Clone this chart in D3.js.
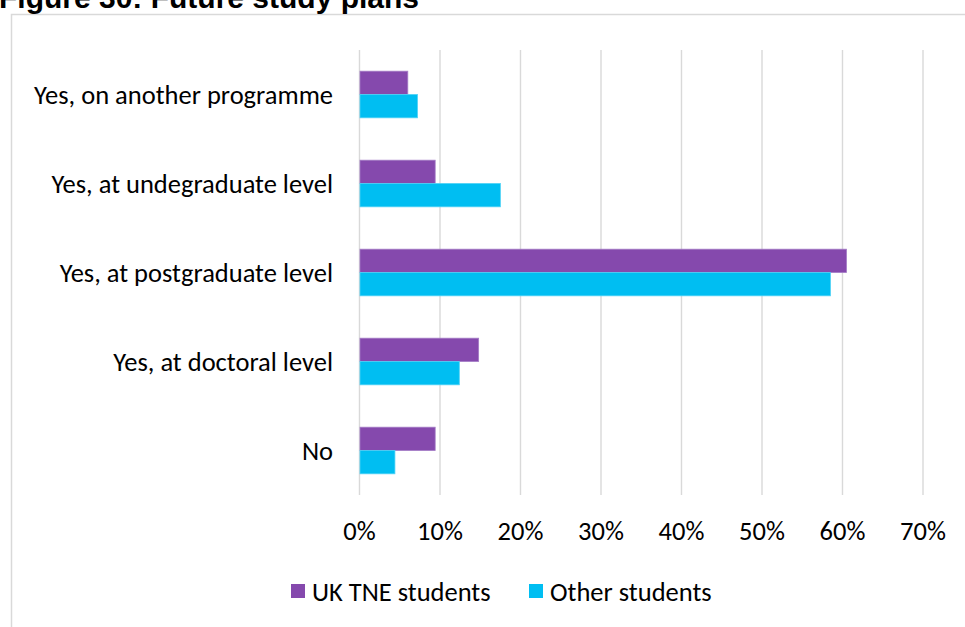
<!DOCTYPE html>
<html><head><meta charset="utf-8">
<script src="https://cdn.jsdelivr.net/npm/d3@7"></script>
<style>body{margin:0;background:#fff;overflow:hidden}svg{display:block}</style>
</head><body><svg id="c" width="965" height="627"></svg>
<script>
const categories = ["Yes, on another programme","Yes, at undegraduate level","Yes, at postgraduate level","Yes, at doctoral level","No"];
const seriesNames = ["UK TNE students","Other students"];
const ukTne = [0.060, 0.094, 0.605, 0.148, 0.094];
const other = [0.072, 0.175, 0.585, 0.124, 0.044];
const ticks = [0,0.1,0.2,0.3,0.4,0.5,0.6,0.7];
const colors = ["#8549AD","#00BEF2"];
const strokes = ["#A47CC6","#4FD2F6"];
const title = "Figure 30: Future study plans";

const svg = d3.select("#c");
const font = "Carlito, Calibri, Lato, sans-serif";
const fs = 26.5;

svg.append("rect").attr("x",11.5).attr("y",14.5).attr("width",1000).attr("height",700)
  .attr("fill","#fff").attr("stroke","#d9d9d9").attr("stroke-width",1.5);

svg.append("text").attr("x",-1).attr("y",8).text(title)
  .attr("font-family","'Liberation Sans', Arial, sans-serif").attr("font-weight","bold")
  .attr("font-size",30).attr("fill","#000");

const x = d3.scaleLinear().domain([0,0.7]).range([359.5,923]);
const y = d3.scaleBand().domain(categories).range([50,495]).paddingInner(0.476).paddingOuter(0.238);
const ys = d3.scaleBand().domain(seriesNames).range([0,y.bandwidth()]);

svg.append("g").selectAll("line").data(ticks).join("line")
  .attr("x1",d=>x(d)).attr("x2",d=>x(d)).attr("y1",50).attr("y2",495)
  .attr("stroke","#d9d9d9").attr("stroke-width",1.4);

const data = [ukTne, other];
data.forEach((vals,si)=>{
  svg.append("g").selectAll("rect").data(categories).join("rect")
    .attr("x",x(0)+0.5)
    .attr("y",c=>y(c)+ys(seriesNames[si]))
    .attr("width",(c,i)=>x(vals[i])-x(0)-0.5)
    .attr("height",ys.bandwidth())
    .attr("fill",colors[si]).attr("stroke",strokes[si]).attr("stroke-width",0.8);
});

svg.append("g").selectAll("text").data(categories).join("text")
  .attr("x",333).attr("y",c=>y(c)+y.bandwidth()/2).attr("dy","0.35em")
  .attr("text-anchor","end").attr("font-family",font).attr("font-size",fs).attr("fill","#000")
  .text(d=>d);

svg.append("g").selectAll("text").data(ticks).join("text")
  .attr("x",d=>x(d)).attr("y",531).attr("dy","0.35em").attr("text-anchor","middle")
  .attr("font-family",font).attr("font-size",fs).attr("fill","#000")
  .text(d3.format(".0%"));

const lx = [291, 529];
seriesNames.forEach((n,i)=>{
  svg.append("rect").attr("x",lx[i]).attr("y",584).attr("width",14).attr("height",14).attr("fill",colors[i]);
  svg.append("text").attr("x",lx[i]+21).attr("y",592).attr("dy","0.35em")
    .attr("font-family",font).attr("font-size",fs).attr("fill","#000").text(n);
});
</script></body></html>
